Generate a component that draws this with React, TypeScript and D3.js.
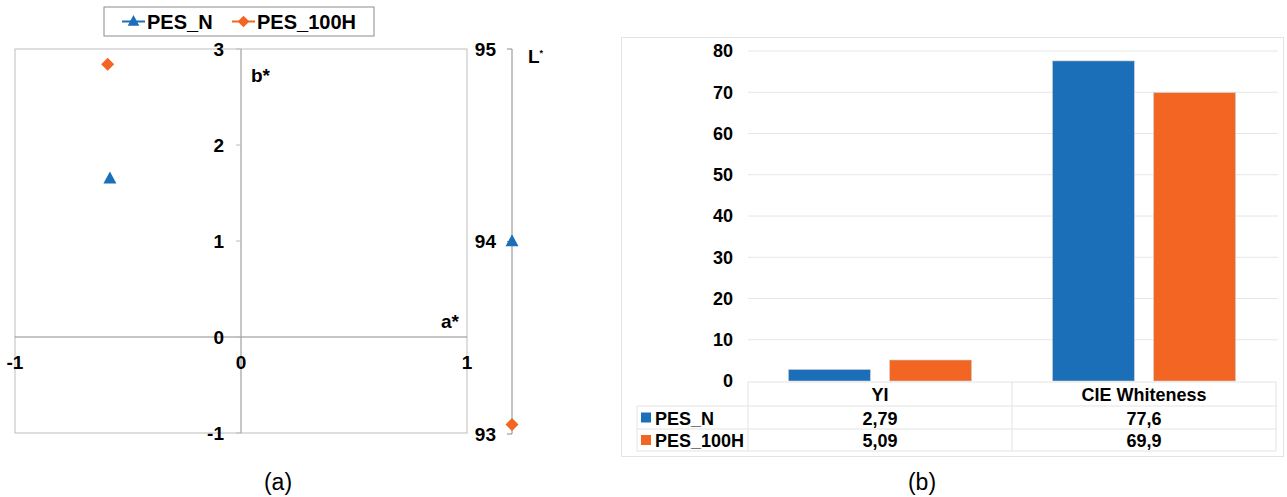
import React from "react";
import * as d3 from "d3";

const series = ["PES_N", "PES_100H"];
const colors = ["#1b6fb9", "#f26522"];
const aStar = [-0.58, -0.59];
const bStar = [1.65, 2.84];
const lStar = [94.0, 93.05];
const abTicks = [-1, 0, 1];
const bTicks = [-1, 0, 1, 2, 3];
const lTicks = [93, 94, 95];

const categories = ["YI", "CIE Whiteness"];
const valuesN = [2.79, 77.6];
const values100H = [5.09, 69.9];
const labelsN = ["2,79", "77,6"];
const labels100H = ["5,09", "69,9"];
const barTicks = [0, 10, 20, 30, 40, 50, 60, 70, 80];

const ARIAL = "Liberation Sans, Arial, sans-serif";
const NARROW = "Liberation Sans Narrow, Arial Narrow, Liberation Sans, Arial, sans-serif";

function Marker({ kind, x, y, color, s = 1 }: { kind: string; x: number; y: number; color: string; s?: number }) {
  if (kind === "tri") {
    const h = 12 * s, w = 13 * s;
    return <path d={`M${x},${y - h * 0.6} L${x + w / 2},${y + h * 0.4} L${x - w / 2},${y + h * 0.4} Z`} fill={color} />;
  }
  const r = 6.5 * s;
  return <path d={`M${x},${y - r} L${x + r},${y} L${x},${y + r} L${x - r},${y} Z`} fill={color} />;
}

function LeftPanel() {
  const x = d3.scaleLinear().domain([-1, 1]).range([15, 467]);
  const y = d3.scaleLinear().domain([-1, 3]).range([433, 49]);
  const yL = d3.scaleLinear().domain([93, 95]).range([434, 49]);
  const lx = 512;
  const kinds = ["tri", "dia"];
  const fs = 19;
  return (
    <g>
      <rect x={x(-1)} y={y(3)} width={x(1) - x(-1)} height={y(-1) - y(3)} fill="none" stroke="#bdbdbd" strokeWidth={1} />
      <line x1={x(0)} x2={x(0)} y1={y(3)} y2={y(-1)} stroke="#8c8c8c" />
      <line x1={x(-1)} x2={x(1)} y1={y(0)} y2={y(0)} stroke="#8c8c8c" />
      {bTicks.map((t) => (
        <g key={"b" + t}>
          <line x1={x(0) - 5} x2={x(0)} y1={y(t)} y2={y(t)} stroke="#bdbdbd" />
          <text x={x(0) - 17} y={y(t)} dy="0.36em" textAnchor="end" fontFamily={ARIAL} fontWeight="bold" fontSize={fs}>{t}</text>
        </g>
      ))}
      {abTicks.map((t) => (
        <text key={"a" + t} x={x(t)} y={y(0) + 25} dy="0.36em" textAnchor="middle" fontFamily={ARIAL} fontWeight="bold" fontSize={fs}>{t}</text>
      ))}
      <text x={x(0) + 10} y={y(2.73)} dy="0.36em" fontFamily={ARIAL} fontWeight="bold" fontSize={fs}>b*</text>
      <text x={x(1) - 8} y={y(0.17)} dy="0.36em" textAnchor="end" fontFamily={ARIAL} fontWeight="bold" fontSize={fs}>a*</text>
      <line x1={lx} x2={lx} y1={yL(95)} y2={yL(93)} stroke="#8c8c8c" />
      {lTicks.map((t) => (
        <g key={"l" + t}>
          <line x1={lx - 5} x2={lx} y1={yL(t)} y2={yL(t)} stroke="#8c8c8c" />
          <text x={lx - 16} y={yL(t)} dy="0.36em" textAnchor="end" fontFamily={ARIAL} fontWeight="bold" fontSize={fs}>{t}</text>
        </g>
      ))}
      <text x={lx + 16} y={yL(95) + 7} dy="0.36em" fontFamily={ARIAL} fontWeight="bold" fontSize={fs}>
        L<tspan fontSize={9} dy="-7">*</tspan>
      </text>
      {series.map((s, i) => (
        <g key={s}>
          <Marker kind={kinds[i]} x={x(aStar[i])} y={y(bStar[i])} color={colors[i]} />
          <Marker kind={kinds[i]} x={lx} y={yL(lStar[i])} color={colors[i]} />
        </g>
      ))}
      <rect x={104} y={7} width={270} height={29} fill="#fff" stroke="#8c8c8c" />
      {series.map((s, i) => {
        const ox = [122, 232][i];
        return (
          <g key={"lg" + s}>
            <line x1={ox} x2={ox + 23} y1={21.5} y2={21.5} stroke={colors[i]} strokeWidth={2} />
            <Marker kind={kinds[i]} x={ox + 11.5} y={21.5} color={colors[i]} s={0.9} />
            <text x={ox + 25} y={21.5} dy="0.36em" fontFamily={ARIAL} fontWeight="bold" fontSize={20}>{s}</text>
          </g>
        );
      })}
      <text x={278} y={482} dy="0.36em" textAnchor="middle" fontFamily={ARIAL} fontSize={23}>(a)</text>
    </g>
  );
}

function RightPanel() {
  const x0 = d3.scaleBand().domain(categories).range([748, 1276]).paddingInner(0).paddingOuter(0);
  const x1 = d3.scaleBand().domain(series).range([0, x0.bandwidth()]).paddingInner(0.19).paddingOuter(0.4);
  const y = d3.scaleLinear().domain([0, 80]).range([381, 51]);
  const vals = [valuesN, values100H];
  const labs = [labelsN, labels100H];
  const rowY = [382, 406, 429, 451];
  return (
    <g>
      <rect x={621.5} y={37.5} width={662} height={419} fill="#fff" stroke="#e3e3e3" />
      {barTicks.map((t) => (
        <g key={"g" + t}>
          {t > 0 && <line x1={748} x2={1278} y1={y(t)} y2={y(t)} stroke="#e6e6e6" />}
          <text x={733} y={y(t)} dy="0.36em" textAnchor="end" fontFamily={NARROW} fontWeight="bold" fontSize={18}>{t}</text>
        </g>
      ))}
      {categories.map((c, ci) =>
        series.map((s, si) => (
          <rect key={c + s} x={x0(c)! + x1(s)!} y={y(vals[si][ci])} width={x1.bandwidth()} height={y(0) - y(vals[si][ci])} fill={colors[si]} stroke="#d0d0d0" strokeWidth={0.6} />
        ))
      )}
      <g stroke="#e3e3e3" strokeWidth={1} fill="none">
        <line x1={748} x2={1276} y1={rowY[0]} y2={rowY[0]} />
        <line x1={637} x2={1276} y1={rowY[1]} y2={rowY[1]} />
        <line x1={637} x2={1276} y1={rowY[2]} y2={rowY[2]} />
        <line x1={637} x2={1276} y1={rowY[3]} y2={rowY[3]} />
        <line x1={637} x2={637} y1={rowY[1]} y2={rowY[3]} />
        <line x1={748} x2={748} y1={rowY[0]} y2={rowY[3]} />
        <line x1={1012} x2={1012} y1={rowY[0]} y2={rowY[3]} />
        <line x1={1276} x2={1276} y1={rowY[0]} y2={rowY[3]} />
      </g>
      {categories.map((c) => (
        <text key={"h" + c} x={x0(c)! + x0.bandwidth() / 2} y={(rowY[0] + rowY[1]) / 2 + 1} dy="0.36em" textAnchor="middle" fontFamily={NARROW} fontWeight="bold" fontSize={18}>{c}</text>
      ))}
      {series.map((s, si) => (
        <g key={"r" + s}>
          <rect x={641} y={(rowY[si + 1] + rowY[si + 2]) / 2 - 5} width={10} height={10} fill={colors[si]} />
          <text x={655} y={(rowY[si + 1] + rowY[si + 2]) / 2 + 1} dy="0.36em" fontFamily={NARROW} fontWeight="bold" fontSize={18}>{s}</text>
          {categories.map((c, ci) => (
            <text key={c} x={x0(c)! + x0.bandwidth() / 2} y={(rowY[si + 1] + rowY[si + 2]) / 2 + 1} dy="0.36em" textAnchor="middle" fontFamily={NARROW} fontWeight="bold" fontSize={18}>{labs[si][ci]}</text>
          ))}
        </g>
      ))}
      <text x={922} y={482} dy="0.36em" textAnchor="middle" fontFamily={ARIAL} fontSize={23}>(b)</text>
    </g>
  );
}

export default function App() {
  return (
    <svg width={1287} height={497} style={{ position: "absolute", left: 0, top: 0, background: "#fff" }}>
      <rect width={1287} height={497} fill="#fff" />
      <LeftPanel />
      <RightPanel />
    </svg>
  );
}
